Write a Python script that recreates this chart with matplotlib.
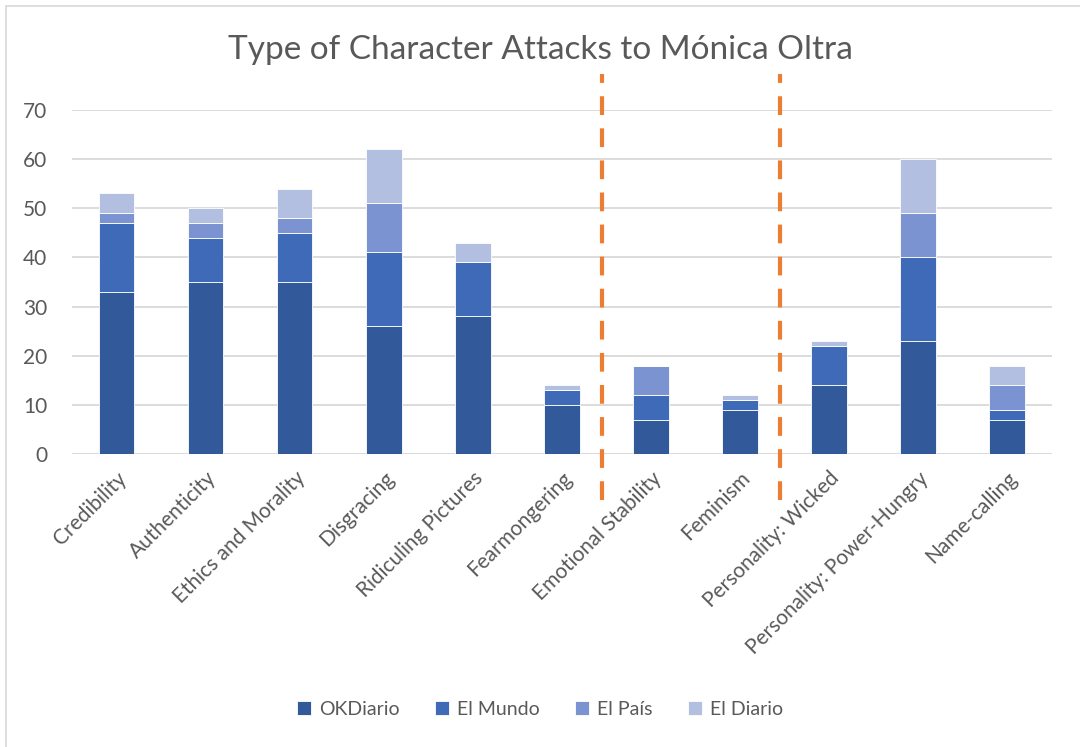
import matplotlib
matplotlib.use("Agg")
import matplotlib.pyplot as plt
from matplotlib.lines import Line2D
import numpy as np

plt.rcParams['font.family'] = ['Lato', 'DejaVu Sans']

categories = ["Credibility", "Authenticity", "Ethics and Morality", "Disgracing",
              "Ridiculing Pictures", "Fearmongering", "Emotional Stability",
              "Feminism", "Personality: Wicked", "Personality: Power-Hungry",
              "Name-calling"]
okdiario = [33, 35, 35, 26, 28, 10, 7, 9, 14, 23, 7]
el_mundo = [14, 9, 10, 15, 11, 3, 5, 2, 8, 17, 2]
el_pais = [2, 3, 3, 10, 0, 0, 6, 0, 0, 9, 5]
el_diario = [4, 3, 6, 11, 4, 1, 0, 1, 1, 11, 4]
series_names = ["OKDiario", "El Mundo", "El País", "El Diario"]
separators = [5.45, 7.45]

colors = ["#325A9A", "#3E6AB8", "#7B93D0", "#B3BFE0"]
text_color = "#595959"

fig = plt.figure(figsize=(10.8, 7.47), dpi=100)
ax = fig.add_axes([0.0667, 0.392, 0.907, 0.461])

x = np.arange(len(categories))
bottom = np.zeros(len(categories))
handles = []
for vals, name, c in zip([okdiario, el_mundo, el_pais, el_diario], series_names, colors):
    v = np.array(vals, dtype=float)
    b = ax.bar(x, v, width=0.4, bottom=bottom, color=c, edgecolor="white",
               linewidth=0.6, label=name, zorder=3)
    handles.append(b)
    bottom += v

ax.set_xlim(-0.5, len(categories) - 0.5)
ax.set_ylim(0, 70)
ax.set_yticks(np.arange(0, 71, 10))
ax.yaxis.grid(True, color="#D9D9D9", linewidth=1.3, zorder=0)
ax.set_axisbelow(True)
for s in ax.spines.values():
    s.set_visible(False)
ax.axhline(0, color="#D9D9D9", linewidth=1.3, zorder=2)
ax.tick_params(axis="both", length=0, labelsize=15, labelcolor=text_color)
ax.tick_params(axis="y", pad=18)
ax.set_xticks(x)
ax.set_xticklabels(categories, rotation=45, ha="right", rotation_mode="anchor")
ax.tick_params(axis="x", pad=10)

# section separators
for sx in separators:
    ax.add_line(Line2D([sx, sx], [-9.3, 77.2], color="#ED7D31", linewidth=3,
                       linestyle=(0, (4.5, 3.2)), clip_on=False, zorder=4))

fig.text(0.5, 0.933, "Type of Character Attacks to Mónica Oltra", ha="center",
         va="center", fontsize=24, color=text_color)

fig.legend(handles=handles, labels=series_names, loc="center", ncol=4,
           bbox_to_anchor=(0.5, 0.05), frameon=False, fontsize=14,
           labelcolor=text_color, handlelength=0.75, handleheight=0.75,
           handletextpad=0.4, columnspacing=1.8)

# chart area border
fig.add_artist(Line2D([6 / 1080, 6 / 1080], [0, 1 - 6 / 747], color="#D9D9D9",
                      linewidth=1.2, transform=fig.transFigure))
fig.add_artist(Line2D([6 / 1080, 1], [1 - 6 / 747, 1 - 6 / 747], color="#D9D9D9",
                      linewidth=1.2, transform=fig.transFigure))

fig.savefig("out.png", dpi=100, facecolor="white")
